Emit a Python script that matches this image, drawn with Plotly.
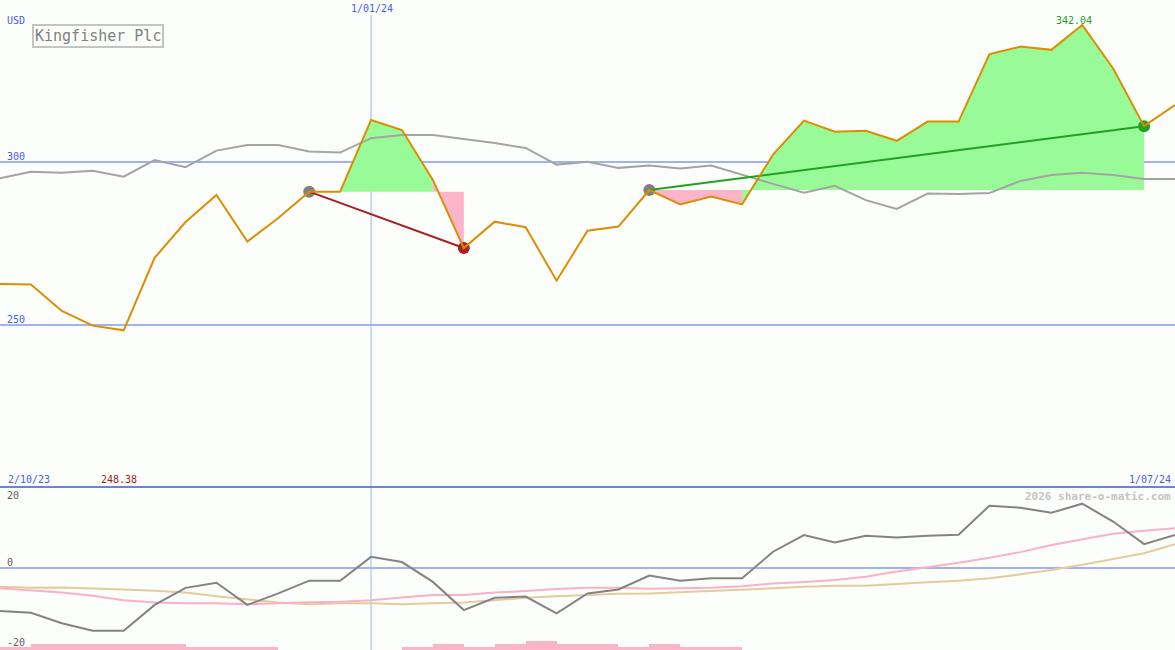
import pandas as pd
import plotly.graph_objects as go

# ---------------- data ----------------
dates = ["2023-10-09", "2023-10-16", "2023-10-23", "2023-10-30", "2023-11-06", "2023-11-13",
         "2023-11-20", "2023-11-27", "2023-12-04", "2023-12-11", "2023-12-18", "2023-12-25",
         "2024-01-01", "2024-01-08", "2024-01-15", "2024-01-22", "2024-01-29", "2024-02-05",
         "2024-02-12", "2024-02-19", "2024-02-26", "2024-03-04", "2024-03-11", "2024-03-18",
         "2024-03-25", "2024-04-01", "2024-04-08", "2024-04-15", "2024-04-22", "2024-04-29",
         "2024-05-06", "2024-05-13", "2024-05-20", "2024-05-27", "2024-06-03", "2024-06-10",
         "2024-06-17", "2024-06-24", "2024-07-01"]

price = [262.6, 262.4, 254.3, 249.8, 248.38, 270.6, 281.6, 289.9, 275.6, 282.8,
         290.9, 290.9, 312.9, 309.8, 294.5, 273.6, 281.7, 280.0, 263.6, 278.9,
         280.2, 291.4, 287.0, 289.4, 287.0, 302.3, 312.7, 309.3, 309.6, 306.5,
         312.4, 312.4, 333.1, 335.4, 334.4, 342.04, 328.7, 311.0, 317.5]

index_line = [295.0, 297.0, 296.7, 297.3, 295.5, 300.6, 298.4, 303.5, 305.2, 305.2,
              303.2, 302.9, 307.3, 308.3, 308.3, 307.1, 305.8, 304.3, 299.2, 300.1,
              298.2, 298.9, 298.0, 298.9, 296.0, 293.3, 290.6, 292.7, 288.3, 285.6,
              290.3, 290.2, 290.5, 294.2, 296.0, 296.7, 296.0, 294.8, 294.8]

momentum = [-10.8, -11.3, -13.9, -15.8, -15.8, -9.3, -5.0, -3.7, -9.3, -6.4,
            -3.2, -3.2, 2.8, 1.5, -3.5, -10.6, -7.5, -7.2, -11.4, -6.4,
            -5.4, -1.9, -3.2, -2.6, -2.6, 4.1, 8.3, 6.4, 8.1, 7.7,
            8.1, 8.4, 15.7, 15.2, 13.9, 16.2, 11.7, 6.0, 8.3]

avg_pink = [-5.1, -5.7, -6.2, -7.0, -8.1, -8.7, -8.9, -8.9, -9.1, -8.9,
            -8.6, -8.5, -8.1, -7.4, -6.8, -6.8, -6.2, -5.8, -5.3, -5.0,
            -5.0, -5.2, -5.1, -5.0, -4.6, -3.9, -3.5, -3.0, -2.2, -0.9,
            0.2, 1.3, 2.6, 4.0, 5.8, 7.2, 8.6, 9.4, 10.0]

avg_tan = [-4.7, -5.0, -4.9, -5.1, -5.4, -5.7, -6.2, -7.1, -7.9, -8.7,
           -9.1, -8.9, -8.9, -9.1, -8.9, -8.7, -8.1, -7.5, -7.1, -6.8,
           -6.5, -6.4, -6.1, -5.8, -5.5, -5.1, -4.7, -4.5, -4.5, -4.0,
           -3.6, -3.2, -2.6, -1.6, -0.5, 0.8, 2.2, 3.7, 6.0]

volume_level = [2.7, 6, 6, 6, 6, 6, 2.7, 2.7, 2.7, 0,
                0, 0, 0, 2.7, 6, 2.7, 6, 9, 6, 6,
                2.7, 6, 2.7, 2.7, 0, 0, 0, 0, 0, 0,
                0, 0, 0, 0, 0, 0, 0, 0, 0]

periods = [(10, 15), (21, 37)]   # (start index, end index)
price_ticks = [250, 300]
mom_ticks = [-20, 0, 20]

# ---------------- styling ----------------
BG = "#fcfefc"
BLUE_TXT = "#4a5cf0"
GRID = "#a3b1f3"
SEP = "#6e7fe8"
ORANGE = "#dc8e00"
GREYLINE = "#a4a4a4"
GREEN_FILL = "#98fb98"
PINK_FILL = "#fbb4c8"
MONO = "DejaVu Sans Mono"

W, H = 1175, 650
SPLIT = 487  # pixel row of the panel separator
split_frac = 1 - SPLIT / H

x = pd.to_datetime(dates)

fig = go.Figure()

# ---- gain / loss fill polygons (segment by segment) ----
gx, gy, px_, py_ = [], [], [], []
for s, e in periods:
    base = price[s]
    for i in range(s, e):
        xs = [x[i], x[i], x[i + 1], x[i + 1], None]
        ys = [base, price[i], price[i + 1], base, None]
        if price[i + 1] >= base:
            gx += xs; gy += ys
        else:
            px_ += xs; py_ += ys

fig.add_trace(go.Scatter(x=gx, y=gy, mode="none", fill="toself", fillcolor=GREEN_FILL,
                         hoverinfo="skip", showlegend=False, xaxis="x", yaxis="y"))
fig.add_trace(go.Scatter(x=px_, y=py_, mode="none", fill="toself", fillcolor=PINK_FILL,
                         hoverinfo="skip", showlegend=False, xaxis="x", yaxis="y"))

# ---- comparison (grey) line ----
fig.add_trace(go.Scatter(x=x, y=index_line, mode="lines", line=dict(color=GREYLINE, width=2),
                         showlegend=False, xaxis="x", yaxis="y"))

# ---- period markers ----
for s, e in periods:
    gain = price[e] >= price[s]
    col = "#22a022" if gain else "#a52222"
    fig.add_trace(go.Scatter(x=[x[s]], y=[price[s]], mode="markers",
                             marker=dict(color="#808080", size=12), showlegend=False,
                             xaxis="x", yaxis="y"))
    fig.add_trace(go.Scatter(x=[x[e]], y=[price[e]], mode="markers",
                             marker=dict(color=col, size=12), showlegend=False,
                             xaxis="x", yaxis="y"))
    fig.add_trace(go.Scatter(x=[x[s], x[e]], y=[price[s], price[e]], mode="lines",
                             line=dict(color=col, width=2), showlegend=False,
                             xaxis="x", yaxis="y"))

# ---- price line ----
fig.add_trace(go.Scatter(x=x, y=price, mode="lines", line=dict(color=ORANGE, width=2),
                         showlegend=False, xaxis="x", yaxis="y"))

# ---- bottom panel ----
fig.add_trace(go.Bar(x=x, y=volume_level, offset=0, width=7 * 24 * 3600 * 1000,
                     marker=dict(color=PINK_FILL, line=dict(width=0)), showlegend=False,
                     xaxis="x2", yaxis="y3"))
fig.add_trace(go.Scatter(x=x, y=avg_tan, mode="lines", line=dict(color="#e2cc9c", width=2),
                         showlegend=False, xaxis="x2", yaxis="y2"))
fig.add_trace(go.Scatter(x=x, y=avg_pink, mode="lines", line=dict(color="#fbb0c6", width=2),
                         showlegend=False, xaxis="x2", yaxis="y2"))
fig.add_trace(go.Scatter(x=x, y=momentum, mode="lines", line=dict(color="#848284", width=2),
                         showlegend=False, xaxis="x2", yaxis="y2"))

# ---- axes ----
xr = [x[0], x[-1]]
top_px_per_unit = (325 - 162) / 50.0
top_range = [250 - (SPLIT - 325) / top_px_per_unit, 300 + 162 / top_px_per_unit]
bot_px_per_unit = 3.97
bot_range = [-(H - 568) / bot_px_per_unit, (568 - SPLIT) / bot_px_per_unit]

hidden = dict(showgrid=False, zeroline=False, showticklabels=False, showline=False, ticks="")
fig.update_layout(
    width=W, height=H, margin=dict(l=0, r=0, t=0, b=0),
    paper_bgcolor=BG, plot_bgcolor=BG, showlegend=False, bargap=0,
    xaxis=dict(domain=[0, 1], range=xr, anchor="y", type="date", **hidden),
    xaxis2=dict(domain=[0, 1], range=xr, anchor="y2", type="date", matches="x", **hidden),
    yaxis=dict(domain=[split_frac, 1], range=top_range, anchor="x", **hidden),
    yaxis2=dict(domain=[0, split_frac], range=bot_range, anchor="x2", **hidden),
    yaxis3=dict(domain=[0, split_frac], range=[0, H - SPLIT], anchor="x2",
                overlaying="y2", **hidden),
)

shapes = []
for t in price_ticks:
    shapes.append(dict(type="line", xref="paper", x0=0, x1=1, yref="y", y0=t, y1=t,
                       line=dict(color=GRID, width=2), layer="below"))
shapes.append(dict(type="line", xref="paper", x0=0, x1=1, yref="y2", y0=0, y1=0,
                   line=dict(color=GRID, width=2), layer="below"))
shapes.append(dict(type="line", xref="x", x0=x[12], x1=x[12], yref="paper",
                   y0=0, y1=1 - 15 / H, line=dict(color=GRID, width=1), layer="below"))
shapes.append(dict(type="line", xref="paper", x0=0, x1=1, yref="paper",
                   y0=split_frac, y1=split_frac, line=dict(color=SEP, width=2)))
fig.update_layout(shapes=shapes)


def px_ann(text, px, py, xanchor="left", color=BLUE_TXT, size=10, **kw):
    return dict(text=text, x=px / W, y=1 - py / H, xref="paper", yref="paper",
                xanchor=xanchor, yanchor="middle", showarrow=False,
                font=dict(family=MONO, size=size, color=color), **kw)


anns = [
    px_ann("USD", 5, 20),
    px_ann(str(price_ticks[1]), 5, 156),
    px_ann(str(price_ticks[0]), 5, 319),
    px_ann("1/01/24", 372, 9, xanchor="center"),
    px_ann(f"{max(price):.2f}", 1074, 21, xanchor="center", color="#2a9a2a"),
    px_ann("2/10/23", 6, 479),
    px_ann(f"{min(price):.2f}", 99, 479, color="#a01c1c"),
    px_ann("1/07/24", 1173, 479, xanchor="right"),
    px_ann("<b>2026 share-o-matic.com</b>", 1173, 496, xanchor="right", color="#c4c4c4", size=11),
    px_ann(str(mom_ticks[2]), 5, 495, color="#606060"),
    px_ann(str(mom_ticks[1]), 5, 562, color="#606060"),
    px_ann(str(mom_ticks[0]), 5, 642, color="#606060"),
    dict(text="Kingfisher Plc", x=32 / W, y=1 - 23.5 / H, xref="paper", yref="paper",
         xanchor="left", yanchor="top", showarrow=False,
         font=dict(family=MONO, size=15, color="#808080"),
         bordercolor="#c4c4c4", borderwidth=2, borderpad=1, bgcolor=BG),
]
fig.update_layout(annotations=anns)

fig.write_html(
    "out.html",
    config={"displayModeBar": False},
    post_script="document.body.style.margin='0';document.body.style.overflow='hidden';",
)
